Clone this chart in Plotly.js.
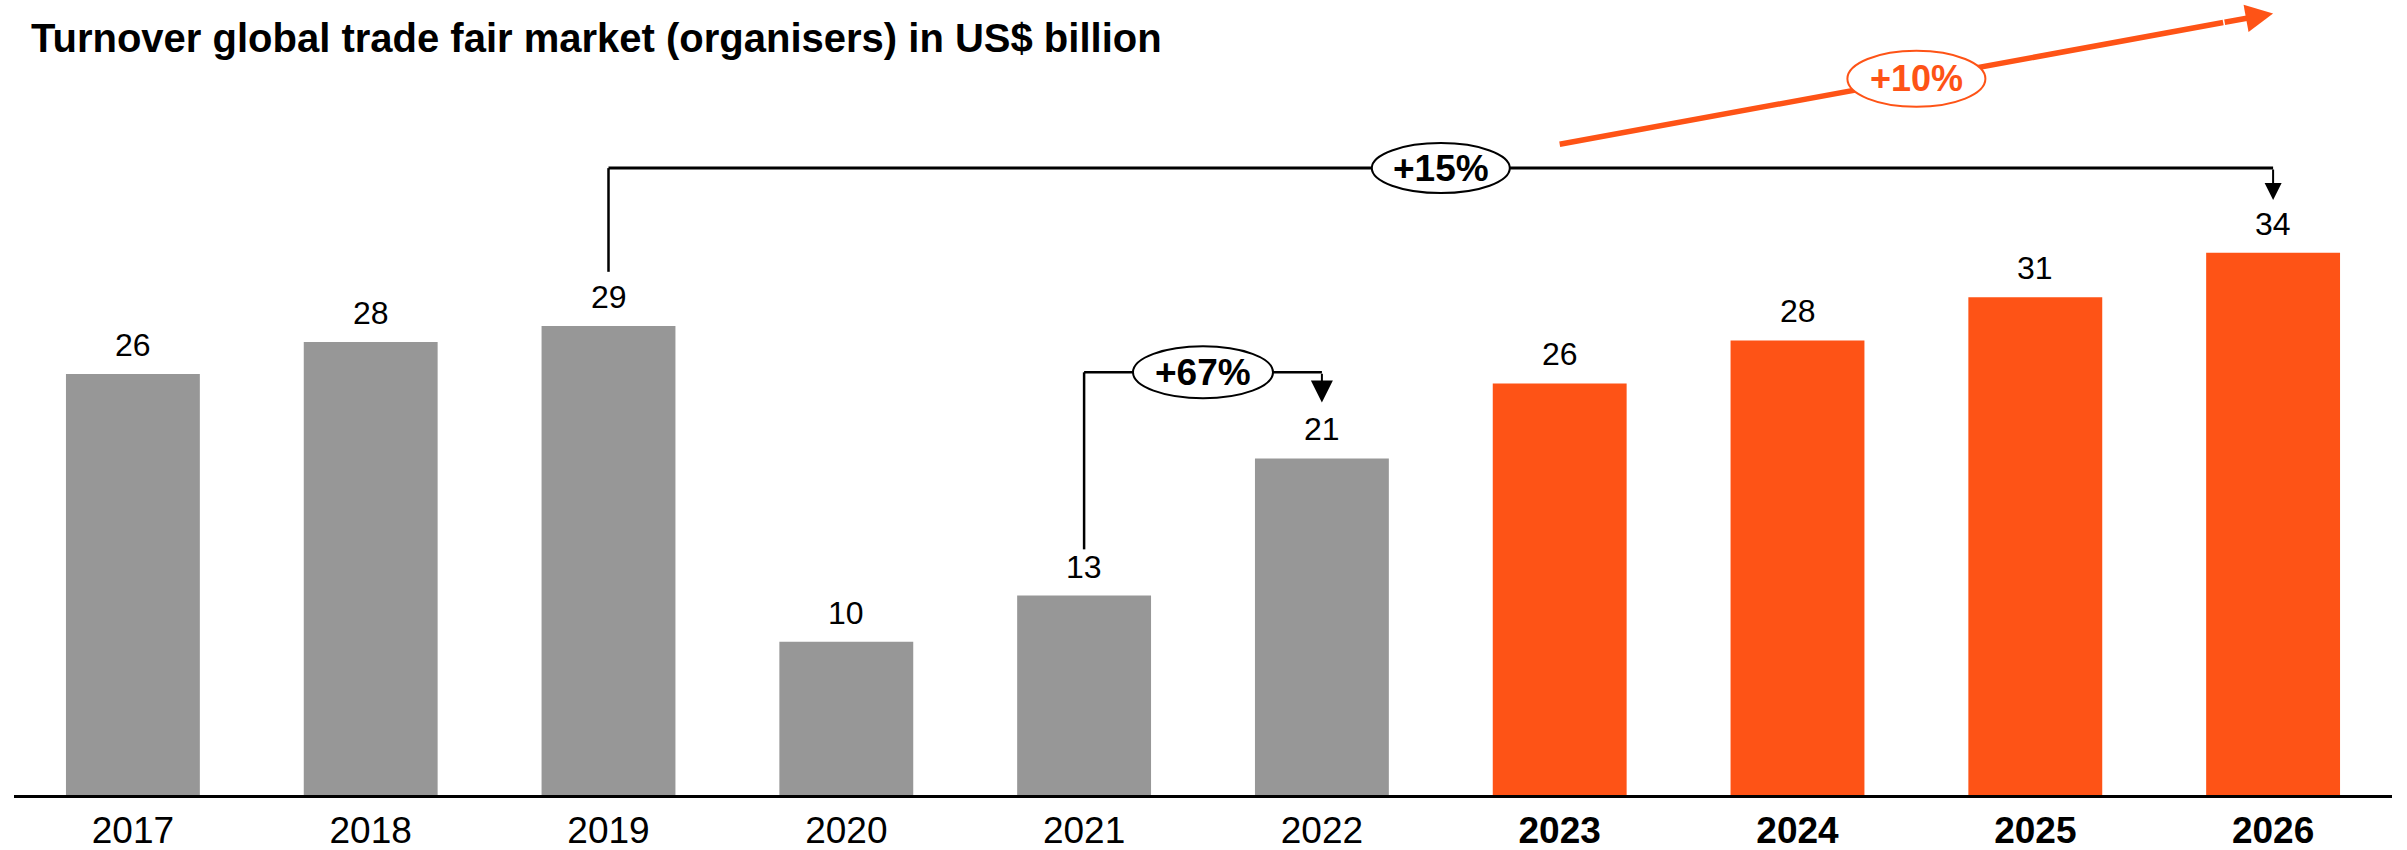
<!DOCTYPE html>
<html>
<head>
<meta charset="utf-8">
<script src="https://cdn.plot.ly/plotly-3.0.1.min.js"></script>
<style>html,body{margin:0;padding:0;background:#fff;}#chart{width:2407px;height:850px;}</style>
</head>
<body>
<div id="chart"></div>
<script>
// ---- data ----
const years = ['2017','2018','2019','2020','2021','2022','2023','2024','2025','2026'];
const turnover = [26.4, 28.4, 29.4, 9.6, 12.5, 21.1, 25.8, 28.5, 31.2, 34.0];
const valueLabels = ['26','28','29','10','13','21','26','28','31','34'];
const forecastFrom = '2023';
const cagrLabels = ['+15%', '+67%', '+10%'];
const titleText = 'Turnover global trade fair market (organisers) in US$ billion';

// ---- styling ----
const GRAY = '#979797';
const ORANGE = '#FE5316';
const FONT = 'Liberation Sans, Arial, sans-serif';

const isForecast = years.map(y => y >= forecastFrom);
const barColors = isForecast.map(f => f ? ORANGE : GRAY);
const tickText = years.map((y, i) => isForecast[i] ? '<b>' + y + '</b>' : y);

const bar = {
  type: 'bar',
  x: years,
  y: turnover,
  marker: {color: barColors, line: {width: 0}},
  hoverinfo: 'skip'
};

// value labels (category index positions)
const annotations = years.map((y, i) => ({
  x: i, y: turnover[i], xref: 'x', yref: 'y',
  text: valueLabels[i], showarrow: false,
  yanchor: 'bottom', yshift: 9,
  font: {family: FONT, size: 32, color: '#000'}
}));

const idx = y => years.indexOf(y);
const i2019 = idx('2019'), i2021 = idx('2021'), i2022 = idx('2022'), i2026 = idx('2026');

const bY15 = 39.3;   // +15% bracket level
const bY67 = 26.5;   // +67% bracket level

// orange trend arrow geometry (data coords)
const oX0 = 6.0, oY0 = 40.8, oX1 = 9.0, oY1 = 49.0;
const oMidX = 7.5, oMidY = oY0 + (oY1 - oY0) * (oMidX - oX0) / (oX1 - oX0);
const oHeadStart = 0.93;
const oHX = oX0 + (oX1 - oX0) * oHeadStart, oHY = oY0 + (oY1 - oY0) * oHeadStart;

const shapes = [
  {type: 'line', xref: 'x', yref: 'y', x0: i2019, x1: i2019, y0: 32.8, y1: bY15, line: {color: '#000', width: 2.5}},
  {type: 'line', xref: 'x', yref: 'y', x0: i2019, x1: i2026, y0: bY15, y1: bY15, line: {color: '#000', width: 3}},
  {type: 'line', xref: 'x', yref: 'y', x0: i2021, x1: i2021, y0: 15.4, y1: bY67, line: {color: '#000', width: 2.5}},
  {type: 'line', xref: 'x', yref: 'y', x0: i2021, x1: i2022, y0: bY67, y1: bY67, line: {color: '#000', width: 2.5}},
  {type: 'line', xref: 'x', yref: 'y', x0: oX0, x1: oHX, y0: oY0, y1: oHY, line: {color: ORANGE, width: 5.5}},
  {type: 'circle', xref: 'x', yref: 'y', xsizemode: 'pixel', ysizemode: 'pixel',
   xanchor: (i2019 + i2026) / 2, yanchor: bY15, x0: -69, x1: 69, y0: -25, y1: 25,
   fillcolor: '#fff', line: {color: '#000', width: 2}},
  {type: 'circle', xref: 'x', yref: 'y', xsizemode: 'pixel', ysizemode: 'pixel',
   xanchor: (i2021 + i2022) / 2, yanchor: bY67, x0: -70, x1: 70, y0: -26, y1: 26,
   fillcolor: '#fff', line: {color: '#000', width: 2}},
  {type: 'circle', xref: 'x', yref: 'y', xsizemode: 'pixel', ysizemode: 'pixel',
   xanchor: oMidX, yanchor: oMidY, x0: -69, x1: 69, y0: -28, y1: 28,
   fillcolor: '#fff', line: {color: ORANGE, width: 2}}
];

// arrowheads
annotations.push(
  {x: i2026, y: 37.3, ax: i2026, ay: bY15, xref: 'x', yref: 'y', axref: 'x', ayref: 'y',
   showarrow: true, arrowhead: 2, arrowsize: 1.7, arrowwidth: 2, arrowcolor: '#000', text: ''},
  {x: i2022, y: 24.6, ax: i2022, ay: bY67, xref: 'x', yref: 'y', axref: 'x', ayref: 'y',
   showarrow: true, arrowhead: 2, arrowsize: 2.2, arrowwidth: 2, arrowcolor: '#000', text: ''},
  {x: oX1, y: oY1, ax: oHX, ay: oHY, xref: 'x', yref: 'y', axref: 'x', ayref: 'y',
   showarrow: true, arrowhead: 2, arrowsize: 1.0, arrowwidth: 5.5, arrowcolor: ORANGE, text: ''}
);

// ellipse labels
annotations.push(
  {x: (i2019 + i2026) / 2, y: bY15, xref: 'x', yref: 'y', text: '<b>' + cagrLabels[0] + '</b>', showarrow: false,
   font: {family: FONT, size: 37, color: '#000'}},
  {x: (i2021 + i2022) / 2, y: bY67, xref: 'x', yref: 'y', text: '<b>' + cagrLabels[1] + '</b>', showarrow: false,
   font: {family: FONT, size: 37, color: '#000'}},
  {x: oMidX, y: oMidY, xref: 'x', yref: 'y', text: '<b>' + cagrLabels[2] + '</b>', showarrow: false,
   font: {family: FONT, size: 36, color: ORANGE}}
);

const layout = {
  width: 2407, height: 850,
  margin: {l: 14, r: 15, t: 0, b: 55, pad: 0},
  paper_bgcolor: '#fff', plot_bgcolor: '#fff',
  showlegend: false,
  bargap: 0.437,
  title: {
    text: '<b>' + titleText + '</b>',
    xref: 'container', yref: 'container',
    x: 31 / 2407, xanchor: 'left',
    y: 1 - 38 / 850, yanchor: 'middle',
    font: {family: FONT, size: 40, color: '#000'}
  },
  xaxis: {
    type: 'category',
    tickmode: 'array', tickvals: years, ticktext: tickText,
    tickfont: {family: FONT, size: 37, color: '#000'},
    showline: true, linecolor: '#000', linewidth: 3,
    ticks: '', showgrid: false, zeroline: false,
    ticklabelstandoff: 1,
    range: [-0.5, 9.5], fixedrange: true
  },
  yaxis: {
    range: [0, 49.84],
    showgrid: false, zeroline: false, showticklabels: false, showline: false,
    fixedrange: true
  },
  shapes: shapes,
  annotations: annotations
};

Plotly.newPlot('chart', [bar], layout, {displayModeBar: false, staticPlot: true});
</script>
</body>
</html>
